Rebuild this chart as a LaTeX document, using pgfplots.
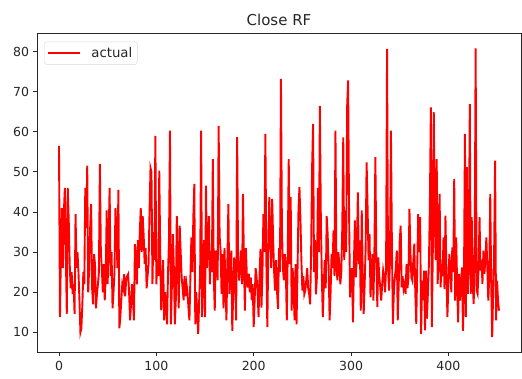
\documentclass[border=0pt]{standalone}
\usepackage{pgfplots}
\pgfplotsset{compat=1.18}
\usetikzlibrary{calc}
\usepackage{fontspec}
\setmainfont{DejaVu Sans}
\begin{document}
\begin{tikzpicture}[x=1pt,y=1pt]
\begin{axis}[
  name=ax,
  width=484pt, height=318pt, scale only axis,
  xmin=-22.6, xmax=474.6, ymin=5.1, ymax=84.4,
  xtick={0,100,200,300,400}, ytick={10,20,30,40,50,60,70,80},
  tick pos=left, tick align=outside, major tick length=4.4pt,
  tick style={black!85, line width=1pt},
  axis line style={black!85, line width=1pt},
  ticklabel style={font=\fontsize{12.5}{14}\selectfont, text=black!85},
  xticklabel style={yshift=-1pt},
  /pgf/number format/assume math mode=true,
  title={Close RF}, title style={font=\fontsize{15}{17}\selectfont, text=black!85, yshift=-1pt},
  legend style={at={(0.015,0.976)}, anchor=north west, draw=black!15, rounded corners=2.5pt,
    font=\fontsize{13.3}{15}\selectfont, inner xsep=3pt, inner ysep=3.5pt, text=black!85,
    /tikz/every odd column/.append style={column sep=8pt},
    /tikz/every even column/.append style={column sep=4pt}},
  legend cell align=left,
  legend image code/.code={\draw[#1, line width=1.9pt] (0pt,0pt) -- (32pt,0pt);},
]
\addplot[red, line width=1.9pt, mark=none] coordinates {
(0,56.5)(1,13.8)(2,30)(3,41)(4,26)(5,40)(6,46)(7,30)(8,14.6)(9,46)
(10,38)(11,27)(12,21)(13,25)(14,19.6)(15,22)(16,14.6)(17,39.5)(18,26)(19,30)
(20,25)(21,18)(22,10)(23,11)(24,17)(25,25)(26,22)(27,46)(28,36)(29,51.6)
(30,20)(31,26)(32,36)(33,42)(34,21)(35,17)(36,29.5)(37,27)(38,16)(39,19.6)
(40,22)(41,25)(42,52)(43,30)(44,26)(45,20)(46,27)(47,18)(48,24)(49,40.4)
(50,22)(51,34)(52,46)(53,24)(54,30)(55,16)(56,20)(57,25)(58,41)(59,35)
(60,26)(61,45.5)(62,11)(63,13.8)(64,18)(65,22)(66,21)(67,24.5)(68,19)(69,23)
(70,24)(71,24.5)(72,20)(73,13)(74,17)(75,22)(76,18)(77,13)(78,32)(79,28)
(80,22)(81,33)(82,26)(83,35)(84,41)(85,30)(86,39)(87,34)(88,27)(89,31)
(90,21)(91,24)(92,27)(93,40)(94,51)(95,50)(96,22)(97,35)(98,28)(99,59)
(100,22)(101,28)(102,24)(103,50.3)(104,30)(105,15.5)(106,22)(107,28)(108,13)(109,20)
(110,16)(111,12)(112,25)(113,33)(114,60.3)(115,12)(116,22)(117,34.5)(118,26)(119,12)
(120,18)(121,39)(122,27)(123,16)(124,36.6)(125,30)(126,23.7)(127,21)(128,18)(129,24)
(130,19)(131,22)(132,20)(133,16)(134,13)(135,24)(136,33.7)(137,25)(138,38.7)(139,47)
(140,12)(141,20)(142,15)(143,9.6)(144,18)(145,25)(146,60.3)(147,13.8)(148,24)(149,33)
(150,13.8)(151,46.6)(152,26)(153,32)(154,39)(155,22)(156,30.4)(157,25)(158,53.2)(159,24)
(160,15.4)(161,30.4)(162,26)(163,23)(164,61.5)(165,34)(166,30.4)(167,19.6)(168,29.5)(169,16)
(170,31)(171,22)(172,13)(173,28)(174,42)(175,19.6)(176,25)(177,30.4)(178,10.4)(179,20)
(180,28.7)(181,22)(182,13)(183,58.7)(184,28)(185,22.9)(186,26)(187,30.4)(188,22)(189,44.5)
(190,27)(191,15.4)(192,31)(193,24)(194,21.2)(195,24.6)(196,20)(197,23.7)(198,18)(199,22)
(200,11.3)(201,18)(202,26)(203,23.7)(204,20)(205,13.8)(206,24)(207,30.8)(208,16.2)(209,25)
(210,39.5)(211,30)(212,59.5)(213,28)(214,11.3)(215,30)(216,43.7)(217,35)(218,26)(219,43.3)
(220,32.9)(221,25)(222,20.4)(223,28)(224,20)(225,15.8)(226,31)(227,25)(228,73.2)(229,36.2)
(230,26)(231,23)(232,29.5)(233,26)(234,13)(235,30)(236,53.2)(237,27)(238,43.7)(239,15.4)
(240,26)(241,21)(242,13)(243,27)(244,12)(245,25)(246,40.4)(247,46.2)(248,38.5)(249,28)
(250,20.4)(251,24)(252,19.5)(253,20.4)(254,23)(255,26)(256,21)(257,19.5)(258,17)(259,30)
(260,51.2)(261,62)(262,25)(263,33)(264,19.5)(265,24)(266,46)(267,30)(268,66.5)(269,38)
(270,24)(271,13.8)(272,22)(273,28)(274,21)(275,39)(276,34.5)(277,26)(278,13)(279,20)
(280,29.5)(281,26)(282,35.4)(283,24)(284,60.3)(285,26)(286,23)(287,30)(288,27)(289,22)
(290,25)(291,36)(292,58.6)(293,28)(294,40.4)(295,30)(296,66.5)(297,72.8)(298,39.5)(299,18.7)
(300,24.5)(301,26)(302,12.5)(303,28)(304,37.9)(305,23.7)(306,30)(307,44.9)(308,27)(309,32.9)
(310,15.4)(311,40.4)(312,25)(313,14.6)(314,22)(315,31)(316,52.4)(317,41.2)(318,28)(319,34.5)
(320,18.7)(321,25)(322,29.5)(323,17.9)(324,30)(325,53.7)(326,28.7)(327,16.3)(328,28.7)(329,24)
(330,21.2)(331,17.9)(332,22)(333,25.4)(334,23.7)(335,20)(336,26.2)(337,80.7)(338,26.2)(339,20.4)
(340,28)(341,60.3)(342,31.2)(343,12.1)(344,20)(345,23.7)(346,26)(347,30.4)(348,13)(349,22)
(350,32.9)(351,36.6)(352,21.2)(353,24)(354,20.8)(355,22)(356,19.6)(357,27)(358,21)(359,23.7)
(360,40.8)(361,30)(362,23.7)(363,22.9)(364,28)(365,32.1)(366,20)(367,12.1)(368,26.2)(369,39.5)
(370,30)(371,38.7)(372,9.6)(373,22.9)(374,18)(375,25.4)(376,10.5)(377,25.4)(378,13.4)(379,20)
(380,27)(381,42)(382,66.1)(383,11.3)(384,30)(385,64.9)(386,38.7)(387,28)(388,53.2)(389,22.1)
(390,30)(391,44.5)(392,21.2)(393,27)(394,24)(395,33.7)(396,20.8)(397,39.1)(398,25)(399,13.8)
(400,22)(401,29.5)(402,26.2)(403,20)(404,31.2)(405,25)(406,48.3)(407,17.9)(408,33.7)(409,22)
(410,12.5)(411,24.6)(412,17.9)(413,22)(414,26.2)(415,10.4)(416,22)(417,59.5)(418,13.8)(419,51.2)
(420,19.6)(421,30)(422,66.9)(423,19.6)(424,38.7)(425,22)(426,17.1)(427,29.5)(428,80.8)(429,20.4)
(430,19.6)(431,26)(432,38.7)(433,25.4)(434,28)(435,22.1)(436,30.4)(437,24.6)(438,28)(439,33.7)
(440,26.2)(441,17.9)(442,24)(443,44.5)(444,22)(445,8.8)(446,20)(447,30.4)(448,52.8)(449,13)
(450,22.9)(451,18)(452,15.4)
};
\addlegendentry{actual}
\end{axis}
\pgfresetboundingbox
\path[use as bounding box] ($(ax.south west)+(-37pt,-26pt)$) rectangle ($(ax.north east)+(1pt,34pt)$);
\end{tikzpicture}
\end{document}
